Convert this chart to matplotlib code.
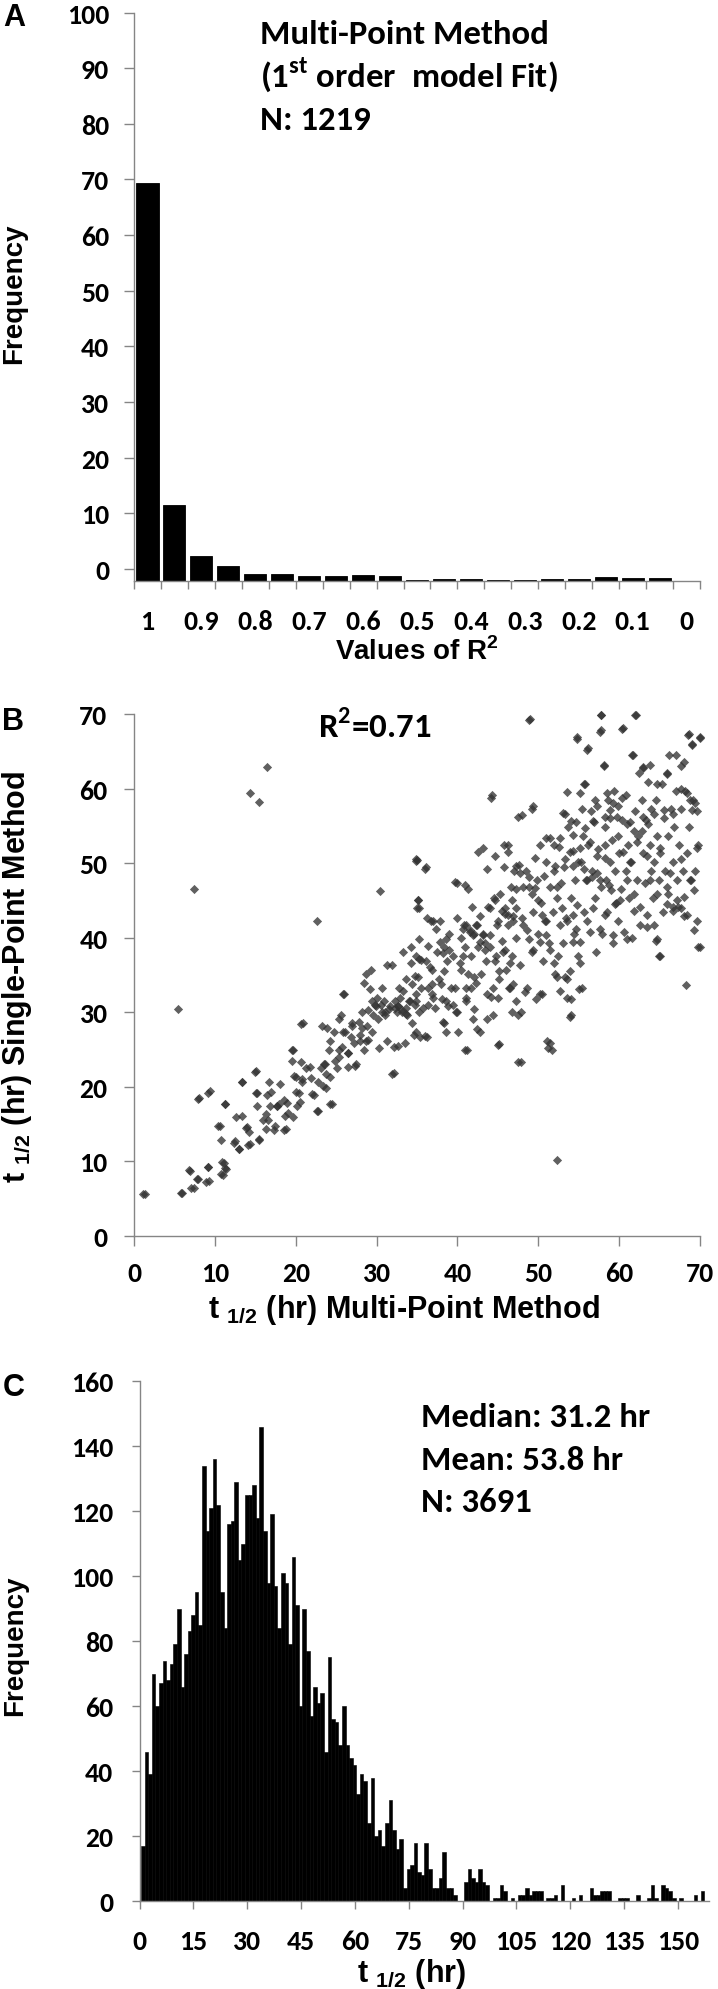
import numpy as np
import matplotlib
matplotlib.use("Agg")
import matplotlib.pyplot as plt

plt.rcParams['font.family'] = ['Carlito', 'DejaVu Sans']
plt.rcParams['font.weight'] = 'bold'

# ---- panel A: distribution of R^2 (percent of fits) ----
r2_labels = ['1', '0.9', '0.8', '0.7', '0.6', '0.5', '0.4', '0.3', '0.2', '0.1', '0']
r2_pct = [71.6, 13.6, 4.55, 2.63, 1.32, 1.32, 0.96, 0.84, 1.02, 0.96, 0.18,
          0.42, 0.36, 0.24, 0.24, 0.30, 0.42, 0.72, 0.60, 0.54, 0.0]
a_base = -2.2          # printed axis is offset: bars start below the "0" label

# ---- panel B: single-point vs multi-point half lives ----
b_points = [
    (1.3,5.6),(5.5,30.4),(5.8,5.8),(5.9,5.7),(7.4,6.4),(7.4,46.5),(8.0,18.5),(9.4,19.4),(6.9,8.7),(7.9,7.7),
    (9.2,9.3),(9.3,7.4),(10.6,14.7),(11.1,9.8),(11.3,17.7),(11.0,8.2),(11.4,9.0),(14.3,59.4),(15.5,58.2),(16.4,62.9),
    (12.6,15.9),(12.4,12.5),(13.0,11.7),(13.4,20.7),(14.0,14.6),(14.3,12.3),(15.1,22.1),(15.2,19.2),(15.4,12.9),(16.4,18.9),
    (16.6,15.6),(16.8,17.4),(17.4,14.7),(17.7,17.4),(18.0,20.4),(18.5,18.3),(18.8,14.3),(19.1,16.5),(19.7,15.9),(19.7,24.9),
    (20.0,21.3),(20.4,19.2),(20.5,18.0),(20.9,28.5),(20.8,20.7),(21.3,22.5),(21.9,21.2),(22.2,18.9),(22.6,42.3),(22.8,16.8),
    (23.1,22.5),(23.4,20.1),(23.6,23.1),(23.9,27.9),(24.2,26.1),(24.5,17.7),(24.3,21.3),(25.1,22.5),(25.3,24.9),(25.6,29.7),
    (25.8,27.3),(26.0,32.4),(26.5,24.6),(26.8,26.7),(27.0,28.5),(27.3,22.8),(27.9,26.1),(28.2,27.9),(28.5,33.9),(28.7,26.1),
    (29.0,30.3),(29.3,35.7),(29.4,27.3),(29.9,30.9),(30.2,29.1),(30.4,46.2),(30.3,25.2),(30.7,33.3),(31.0,30.0),(31.3,26.1),
    (31.6,30.9),(31.9,36.3),(32.1,21.9),(32.3,30.6),(32.6,30.9),(32.7,25.5),(32.8,33.3),(33.2,30.0),(33.3,38.1),(33.6,30.6),
    (33.7,34.5),(33.8,29.7),(34.1,31.5),(34.3,38.7),(34.4,28.5),(34.7,34.8),(34.9,31.5),(35.0,50.4),(35.1,45.0),(35.3,37.2),
    (35.4,26.7),(35.5,33.3),(35.8,30.6),(36.1,49.5),(36.1,36.9),(36.2,26.7),(36.4,33.3),(36.7,42.3),(36.8,35.7),(36.9,32.4),
    (37.2,30.6),(37.5,38.1),(37.7,34.5),(37.8,42.3),(38.1,31.8),(38.3,28.5),(38.4,38.7),(38.7,36.9),(38.8,30.9),(38.9,40.5),
    (39.2,33.3),(39.5,37.5),(39.8,30.0),(39.9,47.4),(40.1,27.3),(40.4,39.9),(40.5,35.7),(40.8,41.7),(40.9,38.7),(41.1,33.3),
    (41.2,24.9),(41.3,46.5),(41.5,41.1),(41.7,37.5),(41.8,44.1),(42.1,40.5),(42.3,41.7),(42.3,33.9),(42.6,38.7),(42.8,42.9),
    (42.9,35.1),(43.2,40.5),(43.4,39.3),(43.5,36.9),(43.6,29.1),(43.8,44.1),(44.0,38.7),(44.2,32.1),(44.3,59.1),(44.5,45.3),
    (44.6,36.9),(44.7,51.0),(44.9,41.7),(45.1,34.5),(45.2,25.8),(45.3,45.9),(45.5,39.6),(45.6,38.1),(45.7,49.5),(45.9,43.2),
    (46.0,35.7),(46.2,41.7),(46.3,52.5),(46.4,33.3),(46.6,46.8),(46.8,37.5),(46.9,42.9),(47.0,48.9),(47.2,39.9),(47.3,46.5),
    (47.5,23.3),(47.6,49.8),(47.7,36.3),(47.9,30.0),(48.0,56.4),(48.0,42.6),(48.3,32.7),(48.5,48.9),(48.6,41.1),(48.9,46.8),
    (49.0,69.3),(49.2,38.1),(49.3,43.5),(49.4,57.6),(49.6,50.7),(49.7,31.8),(49.8,47.7),(50.0,40.5),(50.2,52.5),(50.3,44.7),
    (50.4,32.4),(50.6,36.9),(50.7,48.3),(50.9,42.3),(51.0,50.1),(51.1,26.1),(51.3,39.3),(51.4,46.8),(51.4,53.4),(51.7,24.9),
    (51.8,43.5),(52.0,48.9),(52.1,35.1),(52.3,10.2),(52.3,45.3),(52.4,37.5),(52.6,52.2),(52.7,41.7),(52.8,47.4),(53.0,39.3),
    (53.1,56.7),(53.2,49.5),(53.4,42.6),(53.6,34.5),(53.7,54.9),(53.9,29.4),(54.0,45.3),(54.1,31.8),(54.3,51.6),(54.4,40.5),
    (54.5,47.7),(54.7,55.5),(54.8,66.9),(54.8,44.4),(54.9,37.5),(55.1,59.4),(55.3,50.1),(55.4,33.3),(55.5,53.7),(55.7,43.5),
    (55.8,60.6),(55.9,47.7),(56.2,65.4),(56.2,52.5),(56.4,40.8),(56.5,57.0),(56.7,48.9),(56.9,55.5),(57.0,45.3),(57.1,38.1),
    (57.3,57.6),(57.4,51.9),(57.6,47.7),(57.7,69.9),(57.8,67.8),(57.9,40.5),(58.1,63.0),(58.2,54.9),(58.3,50.7),(58.5,43.5),
    (58.6,58.5),(58.8,47.1),(58.9,56.1),(59.1,53.1),(59.2,39.3),(59.4,59.7),(59.5,48.9),(59.6,44.7),(59.8,53.7),(59.9,57.6),
    (60.0,51.4),(60.2,46.5),(60.4,55.8),(60.5,68.1),(60.6,40.8),(60.8,48.9),(60.9,59.1),(61.1,52.5),(61.2,45.3),(61.3,55.5),
    (61.5,50.1),(61.6,39.9),(61.7,64.5),(61.9,57.0),(62.1,69.9),(62.2,47.7),(62.3,53.7),(62.5,62.1),(62.6,44.1),(62.8,58.5),
    (62.9,51.4),(63.0,62.7),(63.2,47.4),(63.3,55.8),(63.4,41.4),(63.6,60.9),(63.8,52.5),(63.9,48.9),(64.0,57.3),(64.2,45.3),
    (64.3,50.1),(64.5,58.5),(64.6,39.6),(64.7,53.7),(64.9,47.7),(65.0,37.5),(65.1,51.4),(65.3,60.6),(65.4,43.5),(65.6,56.1),
    (65.7,48.9),(65.9,62.1),(66.0,53.7),(66.1,45.9),(66.2,64.5),(66.4,57.3),(66.6,50.1),(66.7,44.1),(66.8,54.9),(67.0,59.7),
    (67.2,47.7),(67.3,44.1),(67.4,52.5),(67.6,63.0),(67.7,57.3),(67.9,48.9),(68.0,42.9),(68.1,59.7),(68.3,33.6),(68.4,51.4),
    (68.5,67.2),(68.7,54.9),(68.9,47.7),(69.0,66.0),(69.1,58.5),(69.3,41.1),(69.4,48.9),(69.6,57.0),(69.7,52.5),(69.8,38.7),
    (70.0,66.9),
    # lower-left part, read from a closer view
    (1.1,5.6),(7.0,6.5),(6.8,8.9),(7.8,7.7),(7.9,18.4),(9.1,19.2),(9.1,9.3),(8.9,7.2),(10.7,8.3),(10.9,9.9),
    (11.3,9.1),(10.4,14.8),(11.2,17.7),(10.8,12.9),(12.5,12.8),(13.0,11.7),(13.3,20.6),(13.3,16.1),(13.8,14.5),(14.2,14.0),
    (14.1,12.2),(15.0,22.0),(15.1,19.2),(15.2,17.5),(15.4,13.0),(16.0,15.6),(16.3,16.3),(16.3,14.4),(16.7,20.7),(16.9,19.3),
    (17.3,14.2),(17.7,17.5),(17.9,17.7),(18.5,14.2),(18.7,16.1),(18.9,17.9),(19.5,24.9),(19.5,23.5),(19.8,21.4),(20.0,19.3),
    (20.2,17.5),(20.7,28.4),(20.6,23.3),(20.8,21.0),(21.8,22.6),(22.0,19.1),(22.6,16.8),(22.8,20.7),(23.3,28.2),(23.5,23.1),
    (23.7,21.7),(23.7,19.8),(24.1,24.9),(24.3,17.7),(24.7,27.3),(24.9,23.5),(25.3,29.1),(25.4,24.0),(25.7,25.4),(25.9,32.4),
    (26.1,27.3),(26.5,24.5),(26.5,22.6),(27.0,28.2),(27.2,25.9),(27.4,23.1),(27.8,28.7),(28.0,27.0),(28.2,30.1),(28.4,24.9),
    (28.7,35.2),(28.8,28.2),(28.9,26.3),(29.2,33.1),(29.4,31.5),(29.6,29.6),(29.8,31.0),(30.0,31.9),(30.5,31.0),(30.7,30.1),
    (30.9,31.5),(31.1,29.6),(31.3,36.3),(31.5,30.5),(31.9,21.7),(32.1,25.4),(32.3,31.5),(32.5,30.1),(32.7,30.8),(32.9,31.9),
    (33.1,30.3),(33.3,32.9),(33.5,25.9),(33.7,29.8),(34.0,31.5),(34.2,36.6),(34.4,33.8),(34.6,27.0),(34.8,31.0),(34.9,37.5),
    (35.0,44.0),(34.9,50.3),
    # middle and right part, read from a closer view
    (34.9,50.6),(36.0,49.2),(35.1,45.0),(35.3,44.0),(36.2,42.6),(37.0,42.2),(37.4,41.2),(35.3,39.8),(35.5,37.0),(35.1,34.7),
    (34.9,32.4),(35.3,30.1),(34.9,27.3),(36.4,38.9),(36.6,36.1),(36.8,33.8),(37.0,31.9),(36.4,31.0),(36.0,26.8),(37.8,39.4),
    (38.2,38.0),(38.6,39.8),(39.0,38.4),(38.4,35.6),(38.0,33.8),(38.6,31.5),(39.5,31.0),(39.7,33.3),(39.9,30.1),(38.2,28.7),
    (38.6,27.3),(39.7,47.5),(40.9,47.1),(39.9,42.6),(40.7,41.2),(41.1,41.7),(41.5,40.8),(41.9,40.3),(42.4,41.7),(42.8,39.4),
    (43.2,40.3),(43.4,38.4),(40.3,36.6),(40.7,37.5),(41.3,35.2),(41.7,33.3),(42.1,34.7),(41.1,31.5),(41.9,29.1),(40.9,24.9),
    (42.4,27.7),(42.6,51.5),(43.2,52.0),(43.6,49.2),(44.0,44.0),(44.6,45.0),(45.0,42.2),(45.5,43.6),(45.9,44.0),(46.3,43.1),
    (46.7,45.0),(46.9,42.2),(47.3,44.0),(44.2,58.7),(44.0,40.3),(44.8,37.5),(45.2,35.6),(44.4,33.3),(45.0,31.9),(45.9,38.4),
    (46.5,36.6),(46.9,33.8),(47.3,31.5),(46.7,30.1),(47.5,29.6),(47.9,23.3),(45.0,25.6),(45.7,52.4),(46.3,51.5),(47.5,56.2),
    (49.2,57.3),(47.3,49.6),(47.7,48.7),(48.1,46.8),(48.8,48.2),(49.2,45.9),(49.6,46.6),(50.0,45.0),(50.4,43.1),(50.8,42.2),
    (48.8,69.2),(48.1,41.7),(48.8,39.8),(49.4,38.4),(50.2,39.4),(51.0,40.3),(51.4,38.4),(51.9,36.6),(52.3,34.7),(52.7,32.9),
    (53.5,31.9),(54.0,29.6),(55.0,33.1),(51.4,25.9),(51.2,25.2),(51.0,53.4),(51.9,52.4),(52.7,53.4),(53.3,50.6),(53.9,51.5),
    (54.3,49.6),(54.9,50.1),(55.6,49.2),(56.0,47.8),(56.6,48.2),(57.2,48.7),(57.8,46.8),(58.4,47.8),(59.0,46.4),(59.5,44.5),
    (60.1,45.0),(52.1,49.6),(52.3,46.8),(52.9,44.0),(53.5,42.2),(54.3,43.1),(54.7,41.2),(55.2,39.4),(56.0,42.2),(56.8,44.0),
    (57.6,41.2),(58.3,43.1),(59.3,40.3),(59.9,42.2),(61.0,39.8),(61.8,43.6),(62.6,41.7),(63.4,43.1),(64.3,41.7),(64.9,37.5),
    (64.7,39.8),(65.9,44.5),(66.7,43.6),(67.6,44.0),(68.4,43.1),(69.6,42.2),(70.0,38.7),(54.8,66.6),(56.0,65.2),(57.6,67.6),
    (57.8,69.9),(60.3,68.0),(62.0,69.9),(58.1,63.1),(61.6,64.5),(53.5,59.6),(55.6,60.6),(57.0,58.5),(58.5,59.4),(59.3,58.0),
    (60.3,58.7),(63.0,62.9),(63.8,63.1),(64.7,60.6),(65.9,62.0),(67.0,64.5),(68.0,63.6),(68.6,67.3),(70.0,66.8),(69.0,65.8),
    (53.3,56.6),(54.1,55.7),(55.4,57.3),(55.8,54.7),(56.8,55.7),(58.3,56.2),(58.9,57.1),(59.7,56.2),(61.0,55.2),(61.8,54.3),
    (63.0,56.2),(63.6,55.2),(64.3,56.6),(65.5,57.1),(66.7,56.6),(67.6,59.9),(68.4,59.4),(68.8,58.5),(69.0,57.1),(69.4,58.0),
    (54.3,53.8),(55.2,52.0),(56.4,52.9),(57.2,51.0),(58.3,52.4),(58.9,50.1),(60.5,51.5),(61.3,50.1),(62.2,52.9),(62.8,54.3),
    (63.4,51.0),(65.1,52.0),(66.3,48.7),(67.6,50.6),(68.8,47.8),(69.6,52.0),(69.2,46.4),(61.0,47.8),(61.8,45.9),(63.8,47.8),
    (64.7,45.9),(65.9,46.8),(67.2,45.0),(68.0,45.4),(53.3,34.7),(53.9,35.6),(55.2,36.6),(54.3,39.4),(50.2,32.4),(48.6,33.3),
    (46.5,33.3),(43.6,32.4),(42.1,30.5),(41.1,31.9),(44.4,29.6),(42.8,27.3),
]
b_multi = [p[0] for p in b_points]
b_single = [p[1] for p in b_points]

# ---- panel C: histogram of half lives, 1 hr bins starting at 0 ----
c_counts = [
    17, 46, 39, 70, 60, 67, 74, 68, 73, 79, 90, 66, 76, 83, 88, 95, 85, 134, 114, 121,
    136, 122, 95, 84, 116, 117, 129, 105, 110, 125, 125, 128, 118, 146, 114,
    98, 119, 97, 84, 101, 98, 79, 106, 91, 60, 90, 77, 57, 66, 61, 64, 46, 75,
    56, 55, 48, 60, 48, 44, 42, 33, 39, 37, 24, 38, 20, 22, 17, 24, 31, 22, 16, 19,
    4, 10, 11, 18, 9, 8, 18, 10, 4, 4, 7, 15, 4, 4, 2, 0, 0, 6, 10, 7, 6, 10, 6, 5,
    0, 1, 1, 5, 3, 0, 1, 0,
    2, 2, 4, 2, 3, 3, 3, 0, 1, 1, 2, 0, 5, 0, 0, 1, 0, 2, 0, 0, 4, 2, 2, 3, 3, 3,
    0, 0, 1, 1, 1, 0, 0, 2, 0, 0, 1, 5, 1, 0, 5, 4, 3, 1, 0, 1, 0, 0, 0, 2, 0, 3,
]
c_ticks = list(range(0, 151, 15))

W, H = 718, 1990
fig = plt.figure(figsize=(W / 100, H / 100), dpi=100)


def box(l, t, r, b):
    return [l / W, 1 - b / H, (r - l) / W, (b - t) / H]


def fx(x):
    return x / W


def fy(y):
    return 1 - y / H


AXC = '#858585'
ARIAL = 'Liberation Sans'
ANN = 25       # annotation text size
TICK = 20      # tick label size


def style(ax):
    for s in ['top', 'right']:
        ax.spines[s].set_visible(False)
    for s in ['left', 'bottom']:
        ax.spines[s].set_color(AXC)
        ax.spines[s].set_linewidth(1.0)
    ax.tick_params(which='both', color=AXC, width=1.0, direction='out',
                   labelsize=TICK, labelcolor='black')


def label(x, y, s, size, **kw):
    # axis titles and panel letters use an Arial-like bold face
    fig.text(fx(x), fy(y), s, family=ARIAL, weight='bold', fontsize=size, **kw)


# Panel A
axA = fig.add_axes(box(134, 13.6, 700, 582))
style(axA)
xa = np.arange(len(r2_pct))
axA.bar(xa, r2_pct, width=0.82, bottom=a_base, color='black',
        edgecolor='black', linewidth=0.6)
axA.set_xlim(-0.5, len(r2_pct) - 0.5)
axA.set_ylim(a_base, 100)
axA.set_yticks(range(0, 101, 10))
axA.set_xticks(xa[::2])
axA.set_xticklabels(r2_labels)
axA.set_xticks(np.arange(-0.5, len(r2_pct), 1), minor=True)
axA.tick_params(axis='x', which='major', length=0, pad=20)
axA.tick_params(axis='x', which='minor', length=5.5)
axA.tick_params(axis='y', length=7, pad=11)

fig.text(fx(260), fy(43.6), "Multi-Point Method", fontsize=ANN, va='baseline')
fig.text(fx(260), fy(86.8), r"(1$^{\mathregular{st}}$ order  model Fit)", fontsize=ANN, va='baseline')
fig.text(fx(260), fy(129.5), "N: 1219", fontsize=ANN, va='baseline')
label(14, 294, "Frequency", 20, rotation=90, ha='center', va='center')
label(417, 660, r"Values of R$^{\mathregular{2}}$", 20, ha='center', va='baseline')
label(3, 25.7, "A", 22, va='baseline')

# Panel B
axB = fig.add_axes(box(134, 715, 700, 1237))
style(axB)
axB.scatter(b_multi, b_single, marker='D', s=22, color='#333333', alpha=0.78,
            linewidths=0, clip_on=False)
axB.set_xlim(0, 70)
axB.set_ylim(0, 70)
axB.set_xticks(range(0, 71, 10))
axB.set_yticks(range(0, 71, 10))
axB.tick_params(axis='x', length=7, pad=11)
axB.tick_params(axis='y', length=7, pad=12)

fig.text(fx(318), fy(737.7), r"R$^{\mathregular{2}}$=0.71", fontsize=ANN, va='baseline')
label(17, 977, r"t $_{\mathregular{1/2}}$ (hr) Single-Point Method", 22,
      rotation=90, ha='center', va='center')
label(404, 1318, r"t $_{\mathregular{1/2}}$ (hr) Multi-Point Method", 22,
      ha='center', va='baseline')
label(2, 729.6, "B", 22, va='baseline')

# Panel C
axC = fig.add_axes(box(139.6, 1382, 709, 1902))
style(axC)
xc = np.arange(len(c_counts)) + 0.9
axC.bar(xc, c_counts, width=1.0, color='black', edgecolor='black', linewidth=0.4)
axC.set_xlim(0, 158.7)
axC.set_ylim(0, 160)
axC.set_xticks(c_ticks)
axC.set_yticks(range(0, 161, 20))
axC.tick_params(axis='x', length=6, pad=14)
axC.tick_params(axis='y', length=6, pad=13)

fig.text(fx(421), fy(1426.7), "Median: 31.2 hr", fontsize=ANN, va='baseline')
fig.text(fx(421), fy(1470.4), "Mean: 53.8 hr", fontsize=ANN, va='baseline')
fig.text(fx(421), fy(1512.3), "N: 3691", fontsize=ANN, va='baseline')
label(15, 1645.5, "Frequency", 20, rotation=90, ha='center', va='center')
label(412, 1982, r"t $_{\mathregular{1/2}}$ (hr)", 22, ha='center', va='baseline')
label(3, 1396, "C", 22, va='baseline')

fig.savefig("out.png", dpi=100)
